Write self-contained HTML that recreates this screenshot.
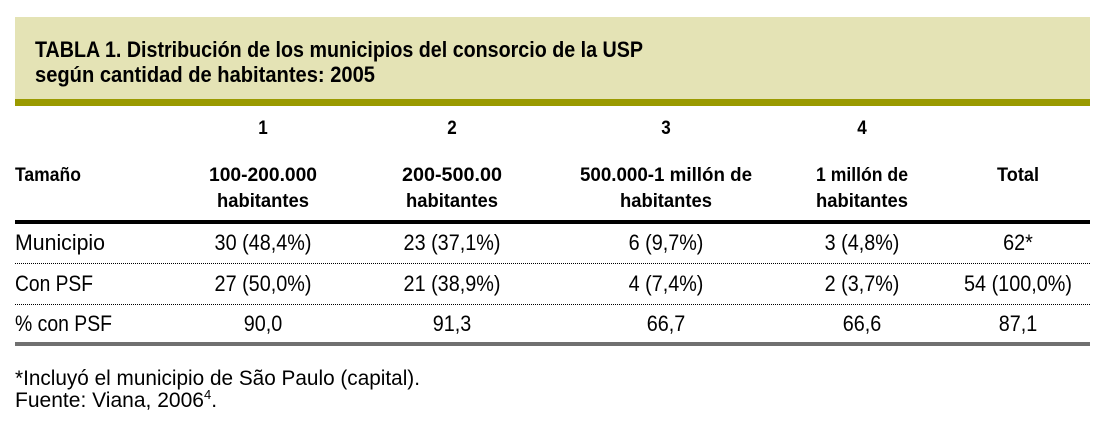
<!DOCTYPE html>
<html><head><meta charset="utf-8"><style>
html,body{margin:0;padding:0;background:#fff;width:1104px;height:423px;overflow:hidden}
svg{display:block}
text{font-family:"Liberation Sans",sans-serif;fill:#000}
.b{font-weight:bold}
</style></head><body>
<svg width="1104" height="423" viewBox="0 0 1104 423">
<rect x="15" y="17" width="1075" height="83" fill="#e4e3b5"/>
<rect x="15" y="99" width="1075" height="7" fill="#9a9a00"/>
<text class="b" x="35" y="57" font-size="22" textLength="608" lengthAdjust="spacingAndGlyphs">TABLA 1. Distribución de los municipios del consorcio de la USP</text>
<text class="b" x="35" y="82" font-size="22" textLength="340" lengthAdjust="spacingAndGlyphs">según cantidad de habitantes: 2005</text>

<g class="b" font-size="19" text-anchor="middle">
<text class="n" x="263" y="134">1</text><text class="n" x="452" y="134">2</text><text class="n" x="666" y="134">3</text><text class="n" x="862" y="134">4</text>
</g>
<text class="b" x="15" y="181" font-size="19" textLength="66" lengthAdjust="spacingAndGlyphs">Tamaño</text>
<g class="b" font-size="19" text-anchor="middle">
<text x="263" y="181" textLength="108" lengthAdjust="spacingAndGlyphs">100-200.000</text>
<text x="263" y="207" textLength="92" lengthAdjust="spacingAndGlyphs">habitantes</text>
<text x="452" y="181" textLength="100" lengthAdjust="spacingAndGlyphs">200-500.00</text>
<text x="452" y="207" textLength="92" lengthAdjust="spacingAndGlyphs">habitantes</text>
<text x="666" y="181" textLength="172" lengthAdjust="spacingAndGlyphs">500.000-1 millón de</text>
<text x="666" y="207" textLength="92" lengthAdjust="spacingAndGlyphs">habitantes</text>
<text x="862" y="181" textLength="92" lengthAdjust="spacingAndGlyphs">1 millón de</text>
<text x="862" y="207" textLength="92" lengthAdjust="spacingAndGlyphs">habitantes</text>
<text x="1018" y="181" textLength="42" lengthAdjust="spacingAndGlyphs">Total</text>
</g>
<rect x="15" y="220" width="1075" height="4" fill="#000"/>

<g font-size="22">
<text x="15" y="250" textLength="90" lengthAdjust="spacingAndGlyphs">Municipio</text>
<g text-anchor="middle"><text class="n" x="263" y="250">30 (48,4%)</text><text class="n" x="452" y="250">23 (37,1%)</text><text class="n" x="666" y="250">6 (9,7%)</text><text class="n" x="862" y="250">3 (4,8%)</text><text class="n" x="1018" y="250">62*</text></g>
</g>
<line x1="15" y1="263.5" x2="1090" y2="263.5" stroke="#000" stroke-width="1" stroke-dasharray="1,1"/>
<g font-size="22">
<text x="15" y="291" textLength="78" lengthAdjust="spacingAndGlyphs">Con PSF</text>
<g text-anchor="middle"><text class="n" x="263" y="291">27 (50,0%)</text><text class="n" x="452" y="291">21 (38,9%)</text><text class="n" x="666" y="291">4 (7,4%)</text><text class="n" x="862" y="291">2 (3,7%)</text><text class="n" x="1018" y="291">54 (100,0%)</text></g>
</g>
<line x1="15" y1="304.5" x2="1090" y2="304.5" stroke="#000" stroke-width="1" stroke-dasharray="1,1"/>
<g font-size="22">
<text x="15" y="331" textLength="97" lengthAdjust="spacingAndGlyphs">% con PSF</text>
<g text-anchor="middle"><text class="n" x="263" y="331">90,0</text><text class="n" x="452" y="331">91,3</text><text class="n" x="666" y="331">66,7</text><text class="n" x="862" y="331">66,6</text><text class="n" x="1018" y="331">87,1</text></g>
</g>
<rect x="15" y="342" width="1075" height="4" fill="#707070"/>

<text x="15" y="385" font-size="21" textLength="405" lengthAdjust="spacingAndGlyphs">*Incluyó el municipio de São Paulo (capital).</text>
<text x="15" y="407" font-size="21"><tspan textLength="189" lengthAdjust="spacingAndGlyphs">Fuente: Viana, 2006</tspan><tspan font-size="13" dy="-8">4</tspan><tspan dy="8">.</tspan></text>
</svg>
<script>
document.querySelectorAll('text.n').forEach(function(t){
  var l=t.getComputedTextLength();
  t.setAttribute('textLength',(l*0.9).toFixed(1));
  t.setAttribute('lengthAdjust','spacingAndGlyphs');
});
</script>
</body></html>
